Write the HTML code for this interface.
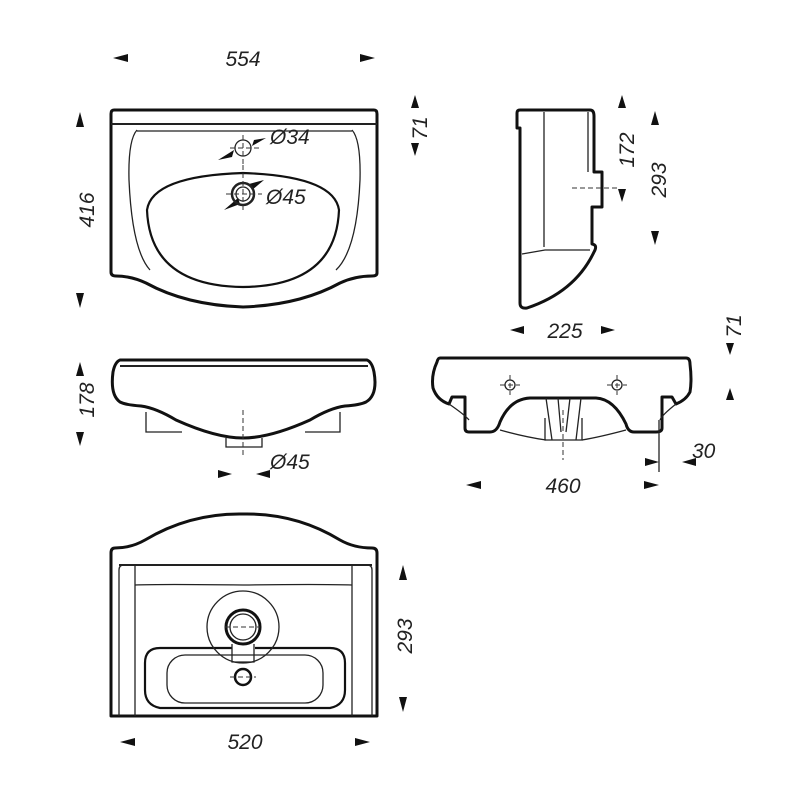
<!DOCTYPE html><html><head><style>body{margin:0;background:#fff}svg{display:block}text{font-family:"Liberation Sans",sans-serif;font-style:italic;font-size:21px;fill:#222}</style></head><body>
<svg width="800" height="800" viewBox="0 0 800 800" xmlns="http://www.w3.org/2000/svg">
<g fill="#111">
<polygon points="113,58 128,54 128,62"/><polygon points="375,58 360,54 360,62"/>
<polygon points="80,112 76,127 84,127"/><polygon points="80,308 76,293 84,293"/>
<polygon points="415,95 411,108 419,108"/><polygon points="415,156 411,143 419,143"/>
<polygon points="622,95 618,108 626,108"/><polygon points="622,202 618,189 626,189"/>
<polygon points="655,111 651,125 659,125"/><polygon points="655,245 651,231 659,231"/>
<polygon points="510,330 524,326 524,334"/><polygon points="615,330 601,326 601,334"/>
<polygon points="730,355 726,343 734,343"/><polygon points="730,388 726,400 734,400"/>
<polygon points="659,462 645,458 645,466"/><polygon points="682,462 696,458 696,466"/>
<polygon points="466,485 481,481 481,489"/><polygon points="659,485 644,481 644,489"/>
<polygon points="80,362 76,376 84,376"/><polygon points="80,446 76,432 84,432"/>
<polygon points="232,474 218,470 218,478"/><polygon points="256,474 270,470 270,478"/>
<polygon points="403,565 399,580 407,580"/><polygon points="403,712 399,697 407,697"/>
<polygon points="120,742 135,738 135,746"/><polygon points="370,742 355,738 355,746"/>
<polygon points="218,160 234,150 232,157"/><polygon points="266,138 252,146 254,140"/>
<polygon points="224,210 238,198 240,204"/><polygon points="264,180 252,190 249,184"/>
</g>
<g fill="none" stroke="#111" stroke-width="3" stroke-linejoin="round">
<path d="M114,110 H374 Q377,110 377,114 V273 Q377,276 372,276 Q355,276 340,283 Q300,305 243,307 Q186,305 146,283 Q131,276 116,276 Q111,276 111,272 V114 Q111,110 114,110Z"/>
<path d="M147,210 Q152,176 243,173 Q334,176 339,210 Q336,286 243,287 Q150,286 147,210Z" stroke-width="2.2"/>
<path d="M520,110 H590 Q594,110 594,116 V172 H602 V207 H592 V244 Q598,245 594,252 Q575,292 527,308 Q520,309 520,303 V128 H517 V113 Q517,110 520,110Z"/>
<path d="M440,358 H686 Q690,358 690,364 Q692,380 690,392 Q686,400 676,404 L672,397 H662 V428 Q662,432 656,432 H634 Q628,432 626,424 Q614,399 596,398 H530 Q510,399 500,422 Q497,432 490,432 H469 Q465,432 465,428 V397 H452 L449,404 Q437,400 433,388 Q431,375 437,362 Q438,358 440,358Z"/>
<path d="M120,360 H367 Q372,362 374,372 Q378,395 366,402 Q360,405 345,406 Q330,408 310,420 Q270,438 243,438 Q216,438 176,420 Q156,408 141,406 Q126,405 120,402 Q110,395 113,372 Q115,362 120,360Z"/>
<path d="M115,548 Q131,548 145,540 Q190,513 243,514 Q296,513 340,540 Q354,548 372,548 Q377,548 377,553 V716 H111 V553 Q111,548 115,548Z"/>
<circle cx="243" cy="627" r="17"/><circle cx="243" cy="677" r="8" stroke-width="2.5"/>
<path d="M232,648 H160 Q145,648 145,663 V690 Q145,705 160,708 H330 Q345,705 345,690 V663 Q345,648 330,648 H255" stroke-width="2.2"/>
</g>
<g fill="none" stroke="#222" stroke-width="1.3">
<line x1="111" y1="124" x2="377" y2="124" stroke-width="2"/>
<path d="M137,130 Q128,140 129,180 Q132,250 150,270"/><path d="M352,130 Q361,140 360,180 Q357,250 336,270"/>
<line x1="137" y1="131" x2="352" y2="131"/>
<circle cx="243" cy="148" r="8"/><circle cx="243" cy="194" r="11" stroke-width="2.5"/><circle cx="243" cy="194" r="7"/>
<line x1="544" y1="112" x2="544" y2="247"/><path d="M522,254 L545,250 H590"/><line x1="588" y1="112" x2="588" y2="172"/>
<line x1="120" y1="366" x2="368" y2="366" stroke-width="2"/>
<path d="M146,412 V432 H182"/><path d="M340,412 V432 H305"/><path d="M226,438 V447 H262 V438"/>
<circle cx="510" cy="385" r="5"/><circle cx="617" cy="385" r="5"/>
<path d="M545,418 V440 H582 V418"/><path d="M546,398 L552,440 M558,398 L561,432 M581,398 L576,440 M570,398 L566,432"/>
<path d="M449,404 Q465,415 469,420 M676,404 Q662,415 660,420 M500,430 Q525,437 546,440 M626,430 Q600,437 582,440"/>
<line x1="659" y1="420" x2="659" y2="472"/>
<line x1="119" y1="565" x2="372" y2="565" stroke-width="2"/><path d="M119,716 V570 Q119,565 124,565 M372,716 V570 Q372,565 367,565"/>
<path d="M135,566 V716 M352,566 V716"/>
<path d="M135,585 Q160,584 243,585 Q320,584 352,585"/>
<circle cx="243" cy="627" r="36"/><circle cx="243" cy="627" r="13"/>
<path d="M232,644 V662 H254 V644"/><rect x="167" y="655" width="156" height="48" rx="18"/>
</g>
<g fill="none" stroke="#333" stroke-width="1" stroke-dasharray="5,3">
<path d="M230,148 H262 M243,135 V165 M243,165 V210 M226,194 H262"/>
<path d="M572,188 H618"/><path d="M243,410 V458"/>
<path d="M500,385 H520 M510,375 V395 M607,385 H627 M617,375 V395 M563,410 V460"/>
<path d="M225,627 H260 M230,677 H256"/>
</g>
<g text-anchor="middle">
<text x="243" y="66">554</text>
<text x="565" y="338">225</text>
<text x="563" y="493">460</text>
<text x="245" y="749">520</text>
</g>
<text x="270" y="144">Ø34</text>
<text x="266" y="204">Ø45</text>
<text x="692" y="458">30</text>
<text x="270" y="469">Ø45</text>
<g text-anchor="middle">
<text transform="translate(94,210) rotate(-90)">416</text>
<text transform="translate(427,128) rotate(-90)">71</text>
<text transform="translate(634,150) rotate(-90)">172</text>
<text transform="translate(666,180) rotate(-90)">293</text>
<text transform="translate(741,326) rotate(-90)">71</text>
<text transform="translate(94,400) rotate(-90)">178</text>
<text transform="translate(412,636) rotate(-90)">293</text>
</g>
</svg></body></html>
